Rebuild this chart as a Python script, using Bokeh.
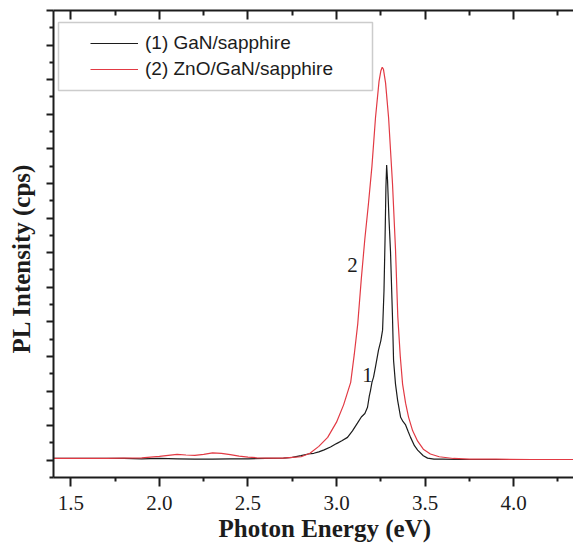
from bokeh.plotting import figure
from bokeh.models import (Range1d, FixedTicker, LinearAxis, Legend, LegendItem,
                          Label, BoxAnnotation, Title)
from bokeh.embed import file_html
from bokeh.resources import INLINE

# ---- data ----
gan_energy = [1.40, 1.50, 1.60, 1.70, 1.80, 1.90, 2.00, 2.10, 2.20, 2.30, 2.40, 2.50,
              2.60, 2.70, 2.75, 2.80, 2.84, 2.872, 2.90, 2.93, 2.966, 3.00, 3.03, 3.062,
              3.09, 3.118, 3.14, 3.16, 3.175, 3.185, 3.192, 3.20, 3.209, 3.22, 3.237,
              3.25, 3.260, 3.268, 3.274, 3.279, 3.283, 3.288, 3.296, 3.305, 3.316,
              3.322, 3.333, 3.345, 3.362, 3.375, 3.390, 3.405, 3.418, 3.44, 3.458,
              3.49, 3.514, 3.55, 3.60, 3.70, 3.90, 4.10, 4.34]
gan_intensity = [0.05, 0.05, 0.05, 0.05, 0.05, 0.04, 0.05, 0.04, 0.03, 0.03, 0.04, 0.04,
                 0.05, 0.06, 0.08, 0.13, 0.18, 0.20, 0.24, 0.30, 0.38, 0.48, 0.56, 0.66,
                 0.85, 1.07, 1.25, 1.35, 1.53, 1.85, 2.02, 2.25, 2.40, 2.70, 3.18,
                 3.45, 3.76, 4.90, 6.40, 7.90, 8.53, 8.10, 7.00, 6.00, 4.13,
                 2.89, 2.20, 1.73, 1.24, 1.12, 1.02, 0.82, 0.66, 0.42, 0.29,
                 0.13, 0.06, 0.03, 0.03, 0.02, 0.02, 0.02, 0.02]

zno_energy = [1.40, 1.50, 1.60, 1.70, 1.80, 1.90, 1.95, 2.00, 2.05, 2.10, 2.15, 2.20,
              2.25, 2.30, 2.35, 2.40, 2.45, 2.50, 2.55, 2.60, 2.65, 2.70, 2.75, 2.80,
              2.85, 2.90, 2.95, 3.00, 3.04, 3.08, 3.10, 3.12, 3.14, 3.16, 3.18, 3.20,
              3.22, 3.24, 3.25, 3.258, 3.265, 3.277, 3.294, 3.316, 3.333, 3.346, 3.360,
              3.373, 3.39, 3.407, 3.43, 3.458, 3.49, 3.53, 3.58, 3.66, 3.75, 3.90,
              4.10, 4.34]
zno_intensity = [0.05, 0.05, 0.05, 0.05, 0.06, 0.07, 0.09, 0.11, 0.14, 0.17, 0.15, 0.14,
                 0.17, 0.21, 0.20, 0.16, 0.12, 0.09, 0.07, 0.06, 0.06, 0.06, 0.08, 0.10,
                 0.20, 0.40, 0.66, 1.10, 1.60, 2.25, 3.05, 3.95, 5.25, 6.40, 7.40, 8.50,
                 9.90, 10.95, 11.25, 11.36, 11.30, 10.90, 9.90, 8.00, 6.10, 4.15, 3.00,
                 2.20, 1.65, 1.24, 0.85, 0.55, 0.32, 0.18, 0.10, 0.05, 0.03, 0.03,
                 0.02, 0.02]

series_labels = ["(1) GaN/sapphire", "(2) ZnO/GaN/sapphire"]
curve_tags = ["1", "2"]

x_ticks = [1.5, 2.0, 2.5, 3.0, 3.5, 4.0]
x_tick_labels = ["1.5", "2.0", "2.5", "3.0", "3.5", "4.0"]
x_minor_ticks = [1.75, 2.25, 2.75, 3.25, 3.75, 4.25]
y_ticks = list(range(0, 14))
y_minor_ticks = [k + 0.5 for k in range(-1, 13)]

x_title = "Photon Energy (eV)"
y_title = "PL Intensity (cps)"

# ---- figure ----
BLACK = "#1c1c1c"
RED = "#e23a44"
SERIF = "'Liberation Serif'"
SANS = "'Liberation Sans'"

p = figure(width=573, height=545, output_backend="svg", toolbar_location=None,
           x_range=Range1d(1.402, 4.338), y_range=Range1d(-0.5, 13.0),
           x_axis_location=None, y_axis_location=None,
           min_border_left=53, min_border_right=0, min_border_top=10,
           min_border_bottom=68)
p.outline_line_color = None
p.xgrid.visible = False
p.ygrid.visible = False
p.background_fill_color = "white"
p.border_fill_color = "white"

r_gan = p.line(gan_energy, gan_intensity, line_color=BLACK, line_width=1.2)
r_zno = p.line(zno_energy, zno_intensity, line_color=RED, line_width=1.2)

xt = FixedTicker(ticks=x_ticks, minor_ticks=x_minor_ticks)
yt = FixedTicker(ticks=y_ticks, minor_ticks=y_minor_ticks)

bottom = LinearAxis(ticker=xt)
bottom.major_label_overrides = {t: l for t, l in zip(x_ticks, x_tick_labels)}
bottom.major_label_text_font = SERIF
bottom.major_label_text_font_size = "21px"
bottom.major_label_text_color = BLACK
bottom.major_label_standoff = 9
bottom.major_tick_in = 0
bottom.major_tick_out = 9
bottom.minor_tick_in = 0
bottom.minor_tick_out = 4
top = LinearAxis(ticker=xt)
top.major_label_overrides = {t: "" for t in x_ticks}
top.major_label_standoff = 0
top.major_tick_in = 9
top.major_tick_out = 0
top.minor_tick_in = 5
top.minor_tick_out = 0
left = LinearAxis(ticker=yt)
left.major_label_overrides = {t: "" for t in y_ticks}
left.major_label_standoff = 0
left.major_tick_in = 0
left.major_tick_out = 7
left.minor_tick_in = 0
left.minor_tick_out = 4
for ax in (bottom, top, left):
    ax.axis_line_width = 2
    ax.axis_line_color = BLACK
    ax.major_tick_line_width = 2
    ax.major_tick_line_color = BLACK
    ax.minor_tick_line_width = 2
    ax.minor_tick_line_color = BLACK
p.add_layout(bottom, "below")
p.add_layout(top, "above")
p.add_layout(left, "left")

# invisible spacer between the left axis and the y title
spacer = LinearAxis(ticker=yt)
spacer.major_label_overrides = {t: "" for t in y_ticks}
spacer.major_label_standoff = 0
spacer.axis_line_color = None
spacer.major_tick_line_color = None
spacer.minor_tick_line_color = None
spacer.major_tick_in = 0
spacer.major_tick_out = 12
spacer.minor_tick_in = 0
spacer.minor_tick_out = 0
p.add_layout(spacer, "left")

# axis titles as side titles
p.add_layout(Title(text=x_title, align="left", offset=165, standoff=0,
                   text_font=SERIF, text_font_size="25px", text_font_style="bold",
                   text_color=BLACK), "below")
p.add_layout(Title(text=y_title, align="left", offset=124, standoff=0,
                   text_font=SERIF, text_font_size="25px", text_font_style="bold",
                   text_color=BLACK), "left")

# curve tags
p.add_layout(Label(x=3.175, y=2.46, text=curve_tags[0], text_font=SERIF,
                   text_font_size="21px", text_color=BLACK, text_align="center",
                   text_baseline="middle"))
p.add_layout(Label(x=3.09, y=5.64, text=curve_tags[1], text_font=SERIF,
                   text_font_size="21px", text_color=BLACK, text_align="center",
                   text_baseline="middle"))

# legend
legend = Legend(items=[LegendItem(label=series_labels[0], renderers=[r_gan]),
                       LegendItem(label=series_labels[1], renderers=[r_zno])],
                location=(37, 395), padding=0, spacing=0, margin=0,
                glyph_width=48, glyph_height=26, label_height=26, label_standoff=7,
                label_text_font=SANS, label_text_font_size="19px",
                label_text_color=BLACK, border_line_color=None,
                background_fill_alpha=0)
p.add_layout(legend, "center")
p.add_layout(BoxAnnotation(left=5, right=319, top=455, bottom=387,
                           left_units="screen", right_units="screen",
                           top_units="screen", bottom_units="screen",
                           fill_color=None, line_color="#555555", line_width=1.5))

open("out.html", "w").write(file_html(p, INLINE))
